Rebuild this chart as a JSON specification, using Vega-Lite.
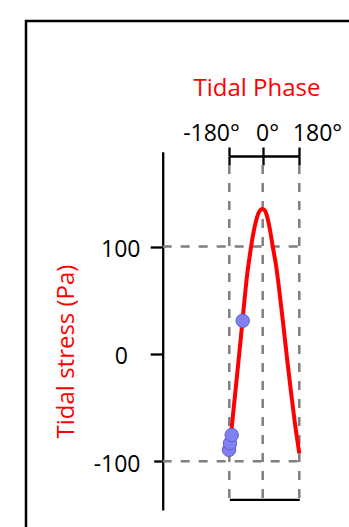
{
  "$schema": "https://vega.github.io/schema/vega-lite/v6.json",
  "width": 326,
  "height": 512,
  "autosize": {"type": "none"},
  "padding": {"left": 26, "top": 21, "right": 0, "bottom": 0},
  "background": "white",
  "config": {
    "view": {"stroke": "#000000", "strokeWidth": 2.5, "fill": "white"},
    "axis": {
      "domainColor": "#000000", "domainWidth": 2.3, "domainCap": "butt",
      "tickColor": "#000000", "tickWidth": 2.3,
      "labelColor": "#000000", "labelFont": "Open Sans", "labelFontSize": 23,
      "titleFont": "Open Sans", "titleFontSize": 24, "titleFontWeight": "normal", "titleColor": "#ff0000",
      "grid": false, "zindex": 1, "labelOverlap": false, "labelFlush": false
    }
  },
  "resolve": {"axis": {"x": "independent", "y": "independent"}},
  "layer": [
    {
      "data": {"values": [{"stress": 100}, {"stress": -100}]},
      "mark": {"type": "rule", "stroke": "#7f7f7f", "strokeWidth": 2.5, "strokeDash": [9, 9], "strokeCap": "butt"},
      "encoding": {
        "y": {"field": "stress", "type": "quantitative", "scale": {"domain": [-145.3, 188.3], "range": [489, 130.7], "nice": false, "zero": false}, "axis": null},
        "x": {"datum": -539, "type": "quantitative", "scale": {"domain": [-180, 0, 180], "range": [203.3, 236.7, 273.3], "nice": false, "zero": false}, "axis": null},
        "x2": {"datum": 180}
      }
    },
    {
      "data": {"values": [{"phase": -180}, {"phase": 0}, {"phase": 180}]},
      "mark": {"type": "rule", "stroke": "#7f7f7f", "strokeWidth": 2.5, "strokeDash": [9, 9], "strokeCap": "butt"},
      "encoding": {
        "x": {"field": "phase", "type": "quantitative", "scale": {"domain": [-180, 0, 180], "range": [203.3, 236.7, 273.3], "nice": false, "zero": false},
              "axis": {"orient": "top", "offset": -144, "values": [-180, 0, 180], "tickSize": 9, "domain": false, "labels": false, "title": null}},
        "y": {"datum": 175.9, "type": "quantitative", "scale": {"domain": [-145.3, 188.3], "range": [489, 130.7], "nice": false, "zero": false}, "axis": null},
        "y2": {"datum": -135.4}
      }
    },
    {
      "data": {"values": [
        {"phase": -180, "stress": -91.1},
        {"phase": -160.1, "stress": -56.9},
        {"phase": -138.5, "stress": -20.6},
        {"phase": -116.9, "stress": 16.7},
        {"phase": -98.1, "stress": 50.2},
        {"phase": -84.6, "stress": 72.5},
        {"phase": -68.4, "stress": 93},
        {"phase": -52.2, "stress": 110.7},
        {"phase": -36, "stress": 123.7},
        {"phase": -22.6, "stress": 131.2},
        {"phase": -9.2, "stress": 134.5},
        {"phase": -3, "stress": 135},
        {"phase": 8.9, "stress": 134},
        {"phase": 21.1, "stress": 128.4},
        {"phase": 35.9, "stress": 115.4},
        {"phase": 50.7, "stress": 98.6},
        {"phase": 65.4, "stress": 82.8},
        {"phase": 80.2, "stress": 61.4},
        {"phase": 99.8, "stress": 29.7},
        {"phase": 119.5, "stress": -3.8},
        {"phase": 139.2, "stress": -35.5},
        {"phase": 158.9, "stress": -65.3},
        {"phase": 180, "stress": -92.3}
      ]},
      "mark": {"type": "line", "stroke": "#ff0000", "strokeWidth": 4, "interpolate": "monotone"},
      "encoding": {
        "x": {"field": "phase", "type": "quantitative", "scale": {"domain": [-180, 0, 180], "range": [203.3, 236.7, 273.3], "nice": false, "zero": false},
              "axis": {"orient": "top", "offset": -135, "values": [-180, 0, 180], "labelExpr": "datum.value + '°'", "tickSize": 9,
                       "labelPadding": 7, "labelBaseline": "alphabetic", "labelAlign": "center",
                       "labelOffset": {"condition": [{"test": "datum.value < 0", "value": -18.3}, {"test": "datum.value > 0", "value": 17.7}], "value": 4.3},
                       "title": "Tidal Phase", "titleX": 230.5, "titleY": -60.3, "titleBaseline": "alphabetic", "titleAlign": "center"}},
        "y": {"field": "stress", "type": "quantitative", "scale": {"domain": [-145.3, 188.3], "range": [489, 130.7], "nice": false, "zero": false},
              "axis": {"orient": "left", "offset": -136.7, "values": [-100, 0, 100], "labelExpr": "'' + datum.value",
                       "tickSize": {"condition": {"test": "datum.value < 0", "value": 9}, "value": 12.5},
                       "labelPadding": {"condition": [{"test": "datum.value < 0", "value": 13.7}, {"test": "datum.value == 0", "value": 22.9}], "value": 10.2},
                       "labelBaseline": "alphabetic", "labelOffset": 10, "labelAlign": "right",
                       "title": "Tidal stress (Pa)", "titleX": -89.7, "titleY": 330, "titleBaseline": "alphabetic", "titleAlign": "center", "titleAngle": -90}}
      }
    },
    {
      "data": {"values": [
        {"phase": -181.5, "stress": -89.3},
        {"phase": -176.2, "stress": -83.2},
        {"phase": -167.1, "stress": -75.5},
        {"phase": -107.8, "stress": 30.9}
      ]},
      "mark": {"type": "circle", "size": 180, "fill": "#8080f0", "stroke": "#5c5cd6", "strokeWidth": 1, "opacity": 1},
      "encoding": {
        "x": {"field": "phase", "type": "quantitative", "scale": {"domain": [-180, 0, 180], "range": [203.3, 236.7, 273.3], "nice": false, "zero": false},
              "axis": {"orient": "bottom", "offset": -33.7, "ticks": false, "labels": false, "title": null, "domain": true}},
        "y": {"field": "stress", "type": "quantitative", "scale": {"domain": [-145.3, 188.3], "range": [489, 130.7], "nice": false, "zero": false}, "axis": null}
      }
    }
  ]
}
